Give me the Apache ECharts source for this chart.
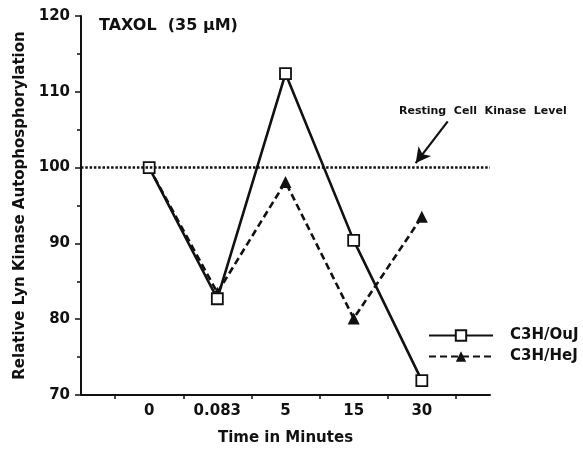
<!DOCTYPE html>
<html>
<head>
<meta charset="utf-8">
<script src="https://cdn.jsdelivr.net/npm/echarts@6/dist/echarts.min.js"></script>
<style>html,body{margin:0;padding:0;background:#fff}#c{width:583px;height:451px}</style>
</head>
<body>
<div id="c"></div>
<script>
const categories = ['0', '0.083', '5', '15', '30'];
const ouj = [100, 82.7, 112.4, 90.4, 71.9];
const hej = [100, 83.5, 98.1, 80.1, 93.5];
const yTicks = [70, 80, 90, 100, 110, 120];
const restingLevel = 100;

const FONT = '"DejaVu Sans", sans-serif';
const chart = echarts.init(document.getElementById('c'), null, {renderer: 'canvas'});
const toPts = arr => arr.map((v, i) => [i, v]);

chart.setOption({
  animation: false,
  backgroundColor: '#fff',
  title: {
    text: 'TAXOL  (35 \u00b5M)',
    left: 94, top: 13,
    textStyle: {fontFamily: FONT, fontWeight: 'bold', fontSize: 16, color: '#111'}
  },
  grid: {left: 81, right: 93, top: 16, bottom: 51},
  legend: {
    orient: 'vertical',
    left: 423, top: 323,
    itemWidth: 64, itemHeight: 13, itemGap: 6,
    textStyle: {fontFamily: FONT, fontWeight: 'bold', fontSize: 15, color: '#111', padding: [0, 0, 0, 12]},
    data: ['C3H/OuJ', 'C3H/HeJ']
  },
  xAxis: {
    type: 'value',
    min: -1, max: 5, interval: 1,
    name: 'Time in Minutes',
    nameLocation: 'middle', nameGap: 36,
    nameTextStyle: {fontFamily: FONT, fontWeight: 'bold', fontSize: 15, color: '#111'},
    axisLine: {onZero: false, lineStyle: {color: '#111', width: 2}},
    axisTick: {show: false},
    minorTick: {show: true, splitNumber: 2, length: 4, lineStyle: {color: '#111', width: 1.5}},
    splitLine: {show: false},
    minorSplitLine: {show: false},
    axisLabel: {
      margin: 9,
      fontFamily: FONT, fontWeight: 'bold', fontSize: 15, color: '#111',
      formatter: v => (Number.isInteger(v) && v >= 0 && v < categories.length) ? categories[v] : ''
    }
  },
  yAxis: {
    type: 'value',
    min: 70, max: 120, interval: 10,
    name: 'Relative Lyn Kinase Autophosphorylation',
    nameLocation: 'middle', nameGap: 51,
    nameTextStyle: {fontFamily: FONT, fontWeight: 'bold', fontSize: 15, color: '#111'},
    axisLine: {show: true, onZero: false, lineStyle: {color: '#111', width: 2}},
    axisTick: {show: true, length: 6, lineStyle: {color: '#111', width: 1.5}},
    minorTick: {show: true, splitNumber: 2, length: 4, lineStyle: {color: '#111', width: 1.5}},
    splitLine: {show: false},
    axisLabel: {
      margin: 11,
      fontFamily: FONT, fontWeight: 'bold', fontSize: 15, color: '#111',
      formatter: v => yTicks.includes(v) ? String(v) : ''
    }
  },
  series: [
    {
      name: 'C3H/OuJ',
      type: 'line',
      data: toPts(ouj),
      symbol: 'rect', symbolSize: 11,
      lineStyle: {color: '#111', width: 2.6, type: 'solid'},
      itemStyle: {color: '#fff', borderColor: '#111', borderWidth: 1.8},
      z: 3,
      markLine: {
        silent: true,
        symbol: 'none',
        label: {show: false},
        lineStyle: {color: '#111', width: 2.5, type: [2.5, 1.8]},
        data: [{yAxis: restingLevel}]
      }
    },
    {
      name: 'C3H/HeJ',
      type: 'line',
      data: toPts(hej),
      symbol: 'triangle', symbolSize: 12,
      lineStyle: {color: '#111', width: 2.6, type: [7, 4]},
      itemStyle: {color: '#111', borderColor: '#111', borderWidth: 0},
      z: 2,
      markLine: {
        silent: true,
        symbol: ['none', 'arrow'],
        symbolSize: [12, 15],
        label: {show: false},
        lineStyle: {color: '#111', width: 2.2, type: 'solid'},
        data: [[{coord: [4.38, 106.1]}, {coord: [3.91, 100.6]}]]
      }
    }
  ],
  graphic: [
    {
      type: 'text',
      left: 399, top: 106,
      style: {
        text: 'Resting  Cell  Kinase  Level',
        font: 'bold 11px "DejaVu Sans", sans-serif',
        fill: '#111'
      }
    }
  ]
});
</script>
</body>
</html>
